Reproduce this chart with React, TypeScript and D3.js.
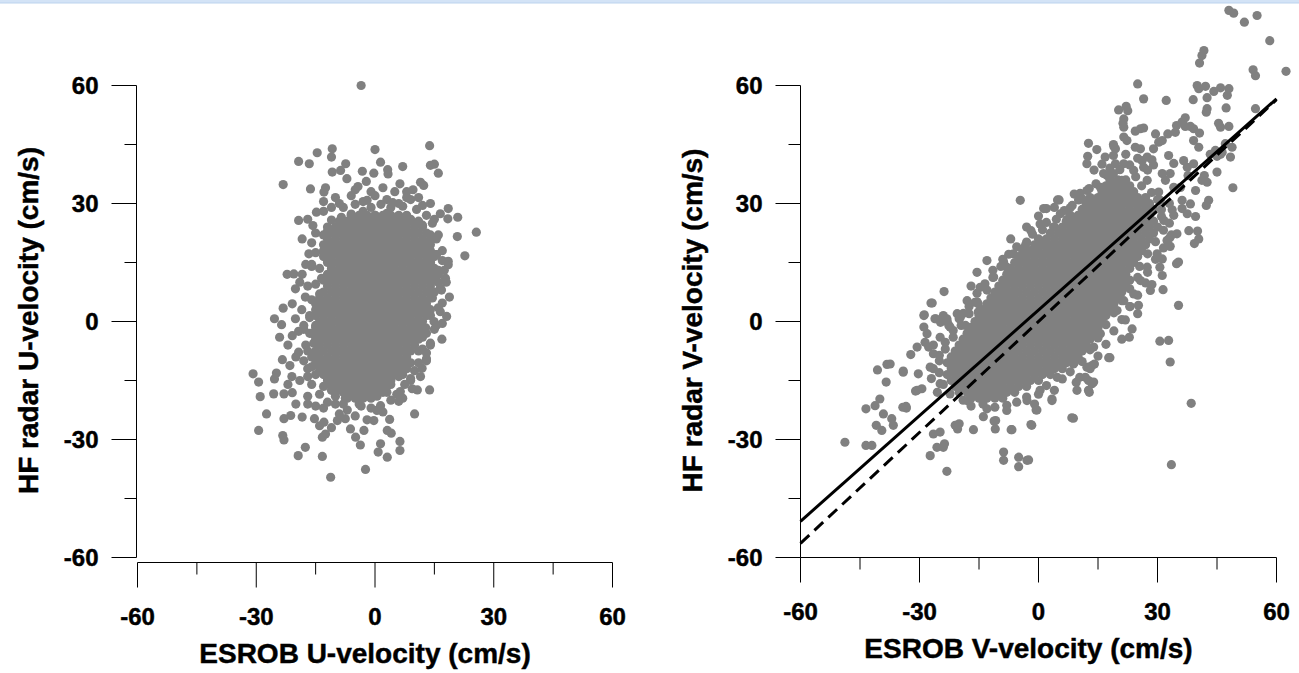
import React from 'react';
import * as d3 from 'd3';

// ---------- axis values ----------
const majorTicks = [-60, -30, 0, 30, 60];
const minorTicks = [-45, -15, 15, 45];
const tickLabels = ['-60', '-30', '0', '30', '60'];

// ---------- U panel (left) ----------
const uOutliers: [number, number][] = [
  [-3.5,60],[13.8,44.7],[0,43.7],[-10.8,43.9],[-11,41.8],[-14.6,42.9],[-19.3,40.7],[-16.6,40.1],[-23.2,34.8],
  [14,39.7],[15,40],[16,37.7],[7,39.4],[1.4,40.5],[3.2,38.6],[3.3,37.5],[-7.4,40.1],[-10.8,38],[-8.7,38.4],
  [-7.1,36.3],[-3.2,38.2],[-0.3,37.7],[-16.3,33.7],[-12.5,34],[-4.3,34.3],[-2.2,35.6],[6.3,35],[9.6,33.5],
  [11.5,35.4],[12.3,34.6],[18.5,28.7],[20.9,26.5],[18.4,26.1],[16.5,27.4],[25.6,22.7],[20.8,21.6],[22.7,16.7],
  [18.5,15.3],[18.5,14.4],[17.8,11],[18.8,6.2],[17,4.7],[18.1,1.3],[14.9,0],[16.9,-4.5],[12.8,-1.6],[11.9,-11.9],
  [13.8,-17.4],[9.4,-17.1],[10.7,-17.4],[6.4,-17.8],[6,-20.3],[10,-23.5],[3.7,-24.9],[4.1,-28.4],[6.3,-30.5],
  [6.3,-32.8],[1.4,-31.1],[3.1,-34.5],[0.8,-33.2],[-2.4,-37.6],[-11.2,-39.6],[-13.3,-34.3],[-19.4,-34.1],
  [-17.6,-32],[-3.7,-31.4],[-23,-30.1],[-23.3,-29],[-29.4,-27.7],[-27.4,-23.5],[-29,-19.1],[-30.8,-13.3],
  [-29.4,-15.4],[-25.6,-18.4],[-23,-18.4],[-20.9,-18.1],[-25.4,-14.6],[-24.9,-13.1],[-23.4,-9.7],[-21.5,-11.2],
  [-19.3,-7.8],[-24.1,-4],[-23.6,-0.8],[-25.4,0.7],[-23.2,3.4],[-20.9,4.5],[-20.1,0.7],[-19.3,-2.5],[-20.9,-3.6],
  [-22.2,12],[-20.5,12.1],[-18.4,12],[-20.1,8.3],[-17.6,6.2],[-16.7,17.2],[-18.4,21],[-19.3,25.7],[-15.7,24.4],
  [-14.8,27.8],[-12.9,32.9],[-23,-24.7],[-21.3,-23.9],[-18.4,-24.3],[-15.3,-24.7],[-12.9,-25.6],[-12.5,-28.6],
  [-13.3,-29.4],[-9.5,-25.2],[-7.5,-24.7],[-6.2,-27.3],[-4.9,-29.4],[-2.8,-27.7],[-0.3,-25.2],[0.5,-22.6],
  [1.4,-21.4],[3.1,-27.7]
];
const uFringe: [number, number][] = [
  [-9,30],[-6,32],[-3,30.5],[0,32],[3,31],[6,30],[9,31],[12,29.5],[-11,29],[-5,33.5],[2,34],[8,33],[4,29],[-1,29],
  [14,30],[-13,30.5],[16,22],[17,18],[17.5,13],[16.8,8],[16.5,2.5],[15,-2],[14,-6],[13,-10],[11.5,-14],[9,-15],
  [16,10],[15.5,17],[14.5,25],[13,-8],[12,-4],[7,-19.5],[4,-20],[2,-23],[-1,-22],[-4,-21],[-7,-22.5],[-10,-21],
  [-13,-22],[-15,-21.5],[-9,-23.5],[-5,-24],[-2,-25],[-11,-27],[-14,-26.5],[-17,-21],[-20,-21],[-17,-19],
  [-17,-14],[-18,-10],[-17.5,-6],[-18,-2],[-16.5,1.5],[-17,9],[-16,14],[-17.5,14.5],[-16,20],[-15,22.5],[-17,26],
  [-19,-15],[-21,-14],[-22,-16],[-20,-9],[-22,-6],[-19,10],[-13,28]
];
const uRing: [number, number][] = [
  [-9,23.5],[-6.5,24.2],[-4,25],[-1,24.8],[2,25.5],[5,24],[7.5,23.2],[10,22.6],[12,24.5],[9,26],[6,26.8],[3,27.5],
  [0,27],[-3,28],[-6,27.3],[-8.5,26.5],[-11,25.8],[-12,23],[14,22],[13,27],[10.5,28.5],[7,29.3],[4.5,30.2],
  [1.5,29.8],[-2,30.8],[-5,29.8],[-8,29],[-10,31.5],[15,26],[11,31.5],[-1,33],[5,33],[8,31.5],
  [14,19.5],[15.5,17],[14,15],[16,13],[14.5,10.5],[16.5,8.5],[14.5,6],[16,3.5],[14,1.5],[15.5,-1],[13,-3],
  [14,-5.5],[12,-7],[13,-9.5],[11,-10.5],[10,-12.5],[8,-12],[6,-14],[9,-14.5],[3.5,-13],[15.5,21],[17,15.5],
  [18,10],[17,-0.5],
  [-11,20],[-13,18],[-12,15.5],[-14,13.5],[-13.5,11],[-15,9.5],[-14,7],[-16,5.5],[-15,3],[-16.5,1],[-15,-1],
  [-16.5,-3],[-15.5,-5.5],[-17,-7.5],[-15,-8],[-14,-10],[-16,-11.5],[-13,-12.5],[-15,-13.5],[-17,-12],[-16,14.5],
  [-15,17.5],[-13,22],[-18,-1],[-18.5,3],
  [-12,-14.5],[-10,-13],[-8,-14],[-6,-12.5],[-4,-13.5],[-2,-12],[0,-13.5],[2,-14.5],[4,-16],[1,-16.5],[-1,-15.5],
  [-3,-16.5],[-5,-15.5],[-7,-17],[-9,-16],[-11,-17.5],[-13,-16.5],[-14,-18.5],[-10,-19],[-7.5,-19.5],[-5,-18.5],
  [-2,-19],[0.5,-19],[3,-18],[5.5,-18.5],[-3.5,-21.5],[-8,-21],[-12,-20.5],[-16,-16],[7.5,-16]
];
const uCoreRows: [number, number[]][] = [
  [27, [-6,-4,-2,0,2,4,6,8]],
  [25.5, [-9,-7,-5,-3,-1,1,3,5,7,9,11]],
  [24, [-12,-10,-8,-6,-4,-2,0,2,4,6,8,10,12]],
  [22.5, [-11,-9,-7,-5,-3,-1,1,3,5,7,9,11,13]],
  [21, [-12,-10,-8,-6,-4,-2,0,2,4,6,8,10,12,14]],
  [19.5, [-13,-11,-9,-7,-5,-3,-1,1,3,5,7,9,11,13]],
  [18, [-12,-10,-8,-6,-4,-2,0,2,4,6,8,10,12,14]],
  [16.5, [-13,-11,-9,-7,-5,-3,-1,1,3,5,7,9,11,13,15]],
  [15, [-12,-10,-8,-6,-4,-2,0,2,4,6,8,10,12,14]],
  [13.5, [-11,-9,-7,-5,-3,-1,1,3,5,7,9,11,13,15]],
  [12, [-12,-10,-8,-6,-4,-2,0,2,4,6,8,10,12,14,16]],
  [10.5, [-13,-11,-9,-7,-5,-3,-1,1,3,5,7,9,11,13,15]],
  [9, [-12,-10,-8,-6,-4,-2,0,2,4,6,8,10,12,14]],
  [7.5, [-13,-11,-9,-7,-5,-3,-1,1,3,5,7,9,11,13,15]],
  [6, [-14,-12,-10,-8,-6,-4,-2,0,2,4,6,8,10,12,14]],
  [4.5, [-15,-13,-11,-9,-7,-5,-3,-1,1,3,5,7,9,11,13]],
  [3, [-14,-12,-10,-8,-6,-4,-2,0,2,4,6,8,10,12,14]],
  [1.5, [-15,-13,-11,-9,-7,-5,-3,-1,1,3,5,7,9,11,13]],
  [0, [-14,-12,-10,-8,-6,-4,-2,0,2,4,6,8,10,12]],
  [-1.5, [-15,-13,-11,-9,-7,-5,-3,-1,1,3,5,7,9,11]],
  [-3, [-16,-14,-12,-10,-8,-6,-4,-2,0,2,4,6,8,10,12]],
  [-4.5, [-15,-13,-11,-9,-7,-5,-3,-1,1,3,5,7,9,11]],
  [-6, [-14,-12,-10,-8,-6,-4,-2,0,2,4,6,8,10]],
  [-7.5, [-15,-13,-11,-9,-7,-5,-3,-1,1,3,5,7,9,11]],
  [-9, [-16,-14,-12,-10,-8,-6,-4,-2,0,2,4,6,8]],
  [-10.5, [-15,-13,-11,-9,-7,-5,-3,-1,1,3,5,7,9]],
  [-12, [-14,-12,-10,-8,-6,-4,-2,0,2,4,6]],
  [-13.5, [-13,-11,-9,-7,-5,-3,-1,1,3,5,7]],
  [-15, [-12,-10,-8,-6,-4,-2,0,2,4]],
  [-16.5, [-11,-9,-7,-5,-3,-1,1,3]],
  [-18, [-10,-8,-6,-4,-2,0,2]],
  [-19.5, [-7,-5,-3,-1]]
];

// ---------- V panel (right) ----------
const vOutliers: [number, number][] = [
  [48,79.1],[49.2,78.4],[55.1,77.8],[51.9,76.1],[58.3,71.4],[41.7,68.9],[41.2,67.6],[40.6,65.7],[54.1,64],[54.7,62.5],
  [62.4,63.6],[25,60.4],[40,60],[42.1,59.8],[40.4,59.2],[44.2,58.5],[45.9,59.4],[48,59.2],[47.6,57.5],[42.5,56.9],
  [39,56.4],[26.5,56.6],[32.2,56.2],[42.5,54.1],[42.3,53.2],[47.3,54.3],[54.7,54.1],[20.2,53.8],[22.1,54.7],[22.5,53.6],
  [21.5,51.5],[21.3,50.4],[21.5,49.4],[37,51.8],[36.2,50.7],[37,49.6],[38.3,49.6],[39.1,49],[40.6,47.9],[45.4,50.4],
  [48,49.6],[45.9,49.4],[34.8,49.8],[34.5,48.1],[24.4,48.4],[25.7,49],[26.5,49.2],[29.5,47.7],[31.2,46],[32.6,47.7],
  [21.5,46.9],[22.3,46],[12.6,45.3],[18.9,45],[19.4,43.9],[14.7,43.7],[24.4,44.3],[25.7,43.9],[29,43.9],[30.3,45.6],
  [39.1,46],[40.4,44.3],[43.3,42.5],[45,42],[45.9,42.5],[12.4,42],[12.2,40.1],[16.8,41.8],[18.9,42.2],[19.4,40.1],
  [32.8,42.2],[34.1,40.2],[36.6,40.9],[37.5,39.2],[45,38],[42.5,35.4],[41.2,35.9],[41.8,37.1],[49,34],[42.9,30.8],
  [42.3,29.5],[39.6,26.7],[37.9,23.1],[40.1,23],[40.4,21],[39.3,19.8],[33.7,28.4],[36.2,28.7],[34.1,27],[33.1,21.3],
  [33.2,19.1],[35.3,15.1],[34.8,14.7],[31.2,15.9],[30.6,13.8],[31.2,11.7],[35.3,4.1],[31.4,8.1],[28.2,7.9],[28.6,9.4],
  [25.2,4.1],[23.1,3.8],[21.9,0.4],[23.6,-1.9],[22.9,-4],[30.6,-5],[32.8,-4.8],[33.2,-10.3],[38.5,-20.8],[33.5,-36.4],
  [17.7,-9.2],[12.2,-11.6],[13.5,-11.2],[10.4,-14.2],[12.6,-15],[13.5,-15.8],[12.6,-17.5],[8.4,-24.5],[3.4,-19.7],
  [-0.6,-22.5],[-1.9,-26.2],[-6.9,-27.5],[-8.8,-33.2],[-8.8,-35.3],[-5,-34.5],[-2.9,-35.3],[-5,-36.9],[-11.2,-25.3],
  [-10.9,-27.3],[-16.4,-27.5],[-23.1,-38.1],[-27.3,-34.1],[-25.6,-32],[-24,-32],[-24.8,-28.1],[-26.5,-28.6],[-21,-26.4],
  [-20.4,-27.3],[-48.8,-30.7],[-43.5,-31.5],[-42,-31.5],[-40.9,-26.4],[-39.5,-27.7],[-43.5,-22.2],[-41.2,-21.4],
  [-40,-19.7],[-39.1,-23.5],[-37,-24.7],[-36.6,-26.4],[-34.2,-21.8],[-33.4,-21.6],[-40.6,-12.3],[-38.2,-10.9],
  [-38.4,-15.4],[-34.1,-12.6],[-32.2,-8.4],[-30.3,-13.3],[-30.6,-6.5],[-30.6,-17.5],[-29.4,-17.1],[-28.8,1.7],
  [-26.1,0.7],[-24,1.5],[-23.1,0.7],[-27.1,4.7],[-23.8,7.6],[-15.5,12.5],[-16,4.9],[-18.9,2.1],[-28.1,-3.1],
  [-28.6,-5.3],[-27.7,-6.5],[-4.6,30.8],[1.3,28.7],[4.8,30.9],[-3.3,19.3],[-1.9,23.1],[0.4,24.8],[-8.8,15.1],
  [-4.2,15.5],[10.5,32.6],[12.2,33.3],[10.1,30.9],[5.5,27.4],[8,28.9],[7.2,25.9],[17.3,37.1],[18.9,37.6],[21,35.9],
  [26.1,40.9],[27.4,41.8],[28.6,41.1],[26.5,39.2],[31.2,37.6],[32,35.9],[30.3,32.9],[47.1,45.2],[48.8,44.3],
  [46.3,43],[48.4,41.8],[-37.4,-10.8],[-34.1,-12.9],[-33.3,-22],[-31,-17.7],[-23.7,-31.1],[-20,-26],[-13.9,-24.2],
  [-10.8,-25.2],[-6.7,-27.5],[-2.5,-35.2],[-0.4,-22.5],[-1.7,-26.4],[8.8,-24.6],[3.4,-20.1],[18,-9.2],[14.1,-10.8],
  [13.9,-15.4],[11.8,-14.2],[12.8,-18],[9.7,-17.5],[-26.8,4.7],[-28.9,1.5],[-25.9,0.7],[-28.9,-1.4],[-24.7,-0.2],
  [-22.6,-1],[-20.5,2],[-15.2,4.5],[-15.2,2.4],[-18.4,-1],[5.2,30.9],[2,28.7],[37.7,37.1],[39.1,40.1],[36.2,30.8],
  [37.5,27.4],[35.8,34.1],[44.6,43.5],[34.1,34.1],[33.2,37.6],[39.6,33.3],[38.3,29.9],[34.9,22.3]
];
const vFringe: [number, number][] = [
  [19.8,2.8],[15.6,-3.1],[13.9,-6.5],[8.8,-10.8],[4.7,-14.2],[0.4,-17.5],[-2.9,-20.1],[-8,-22.6],[-13,-22.2],
  [-18,-20.1],[-22.3,-18.4],[-24.8,-15.8],[-27.3,-11.6],[-26.5,-8.2],[-24.8,-4],[-22.3,-1.4],[-19.7,1.1],[-18,5.3],
  [-14.7,8.7],[-11.3,11.3],[-8,13.8],[-6.3,17.2],[0.4,20.6],[3.8,24],[8.8,26.5],[13.9,30.8],[15.6,34.1],[16.4,37.6],
  [21.5,40.1],[24,38.4],[27.4,35.9],[30.7,30.8],[31.6,25.7],[32.4,20.6],[29.9,17.2],[27.4,13.8],[25.7,10.4],[24,7],
  [21.5,5.3]
];
const vRing: [number, number][] = [
  [14.5,35],[12.8,33.8],[11,31.2],[9,32.4],[8.5,29.5],[6.5,28.2],[4,29],[4.5,26],[2,25.2],[0,26.8],[1,23.3],
  [-1.5,22.2],[-3,24],[-3,20.2],[-5.5,19],[-7,21],[-7.5,17.1],[-9,15.8],[-9.5,14],[-11.5,13],[-13,15.5],
  [-11.5,11.2],[-13.5,9.6],[-13,8],[-15.5,7.2],[-17,9],[-15.5,5],[-17.5,3.8],[-17.5,2],[-20,0.7],[-19.5,-1],
  [-21.5,-2.3],[-23,0],[-21.5,-4],[-23.5,-5.3],[-23.5,-7],[-25,-8.6],[-26.5,-6],[-25,-10],[-26.5,-12],[-25,-13],
  [-27,-14.5],[-24,-16],[-25.5,-18],
  [24.5,36.8],[26,34.5],[28.5,32.8],[30,31],[31,28.5],[33,30],[31,26.7],[33,25],[31.5,23.2],[33.5,22],[29.5,20.3],
  [31.5,18.7],[27.5,17.2],[29.5,15.8],[25.5,14],[27.5,12.5],[25,11.2],[27,9.8],[23,8.3],[25,6.7],[21,5.3],[23,3.8],
  [25,2],[19,2.2],[21,0.5],[17,-0.8],[19,-2.4],[21,-4.5],[15,-4.2],[17,-5.8],[13,-7.2],[15,-8.8],[11,-10.2],
  [13,-12],[8,-12.8],[6,-14.6],[9.5,-15.5],[2,-16.3],[4,-17.5],[0,-18.5],[-3,-19.2],[-5.5,-20.5],[-1,-21],
  [-8,-21.3],[-11,-21.8],[-14,-21],[-17,-21.5],[-19,-20],
  [18,39],[20.5,38.6],[23,39.8],[22,42.5],[25,41.5],[19,44.5],[16,40],[27.5,38.5],[29,39.8],[14,38.5]
];
const vCoreRows: [number, number[]][] = [
  [36, [18,20,22]],
  [34.5, [17,19,21,23]],
  [33, [16,18,20,22,24]],
  [31.5, [13,15,17,19,21,23,25,27]],
  [30, [12,14,16,18,20,22,24,26,28]],
  [28.5, [11,13,15,17,19,21,23,25,27,29]],
  [27, [8,10,12,14,16,18,20,22,24,26,28]],
  [25.5, [7,9,11,13,15,17,19,21,23,25,27,29]],
  [24, [4,6,8,10,12,14,16,18,20,22,24,26,28,30]],
  [22.5, [3,5,7,9,11,13,15,17,19,21,23,25,27,29]],
  [21, [0,2,4,6,8,10,12,14,16,18,20,22,24,26,28]],
  [19.5, [-1,1,3,5,7,9,11,13,15,17,19,21,23,25,27]],
  [18, [-4,-2,0,2,4,6,8,10,12,14,16,18,20,22,24,26]],
  [16.5, [-5,-3,-1,1,3,5,7,9,11,13,15,17,19,21,23,25]],
  [15, [-6,-4,-2,0,2,4,6,8,10,12,14,16,18,20,22,24]],
  [13.5, [-7,-5,-3,-1,1,3,5,7,9,11,13,15,17,19,21,23]],
  [12, [-8,-6,-4,-2,0,2,4,6,8,10,12,14,16,18,20,22]],
  [10.5, [-9,-7,-5,-3,-1,1,3,5,7,9,11,13,15,17,19,21,23]],
  [9, [-10,-8,-6,-4,-2,0,2,4,6,8,10,12,14,16,18,20,22]],
  [7.5, [-11,-9,-7,-5,-3,-1,1,3,5,7,9,11,13,15,17,19,21]],
  [6, [-12,-10,-8,-6,-4,-2,0,2,4,6,8,10,12,14,16,18,20]],
  [4.5, [-13,-11,-9,-7,-5,-3,-1,1,3,5,7,9,11,13,15,17,19]],
  [3, [-14,-12,-10,-8,-6,-4,-2,0,2,4,6,8,10,12,14,16,18]],
  [1.5, [-15,-13,-11,-9,-7,-5,-3,-1,1,3,5,7,9,11,13,15,17]],
  [0, [-16,-14,-12,-10,-8,-6,-4,-2,0,2,4,6,8,10,12,14,16]],
  [-1.5, [-17,-15,-13,-11,-9,-7,-5,-3,-1,1,3,5,7,9,11,13,15]],
  [-3, [-18,-16,-14,-12,-10,-8,-6,-4,-2,0,2,4,6,8,10,12,14]],
  [-4.5, [-19,-17,-15,-13,-11,-9,-7,-5,-3,-1,1,3,5,7,9,11,13]],
  [-6, [-20,-18,-16,-14,-12,-10,-8,-6,-4,-2,0,2,4,6,8,10,12]],
  [-7.5, [-21,-19,-17,-15,-13,-11,-9,-7,-5,-3,-1,1,3,5,7,9,11]],
  [-9, [-22,-20,-18,-16,-14,-12,-10,-8,-6,-4,-2,0,2,4,6,8,10]],
  [-10.5, [-23,-21,-19,-17,-15,-13,-11,-9,-7,-5,-3,-1,1,3,5,7,9]],
  [-12, [-22,-20,-18,-16,-14,-12,-10,-8,-6,-4,-2,0,2,4,6]],
  [-13.5, [-23,-21,-19,-17,-15,-13,-11,-9,-7,-5,-3,-1,1,3]],
  [-15, [-22,-20,-18,-16,-14,-12,-10,-8,-6,-4,-2,0]],
  [-16.5, [-21,-19,-17,-15,-13,-11,-9,-7,-5,-3]],
  [-18, [-20,-18,-16,-14,-12,-10,-8,-6]],
  [-19.5, [-17,-15,-13,-11,-9]]
];

// regression (solid) and reference (dashed) lines for V panel
const fitSolid = { slope: 0.895, intercept: 2.9 };
const fitDashed = { slope: 0.94, intercept: 0 };
const fitXs = [-60, 60];

const FONT = '"Liberation Sans", Arial, Helvetica, sans-serif';
const DOT = '#808080';

function expand(rows: [number, number[]][]): [number, number][] {
  const out: [number, number][] = [];
  rows.forEach(([y, xs]) => xs.forEach((x) => out.push([x, y])));
  return out;
}

type PanelProps = {
  xRange: [number, number];
  yAxisX: number;
  xAxisY: number;
  xLineStart: number;
  points: [number, number][];
  xTitle: string;
  yTitle: string;
  lines?: { slope: number; intercept: number; dash?: string }[];
};

const textStyle = {
  fontFamily: FONT,
  fontWeight: 'bold' as const,
  fill: '#000',
  stroke: '#000',
  strokeWidth: 0.45
};

function Panel({ xRange, yAxisX, xAxisY, xLineStart, points, xTitle, yTitle, lines = [] }: PanelProps) {
  const x = d3.scaleLinear().domain([-60, 60]).range(xRange);
  const y = d3.scaleLinear().domain([-60, 60]).range([557.5, 85.5]);
  const xMid = (xRange[0] + xRange[1]) / 2;
  return (
    <g>
      {points.map((p, i) => (
        <circle key={i} cx={x(p[0])} cy={y(p[1])} r={4.6} fill={DOT} />
      ))}
      {lines.map((l, i) => {
        const path = d3
          .line<number>()
          .x((d) => x(d))
          .y((d) => y(l.slope * d + l.intercept))(fitXs);
        return (
          <path
            key={i}
            d={path || ''}
            fill="none"
            stroke="#000"
            strokeWidth={3}
            strokeDasharray={l.dash}
          />
        );
      })}
      {/* y axis */}
      <line x1={yAxisX} x2={yAxisX} y1={y(60)} y2={y(-60)} stroke="#000" strokeWidth={1} />
      {majorTicks.map((t, i) => (
        <g key={'ym' + t}>
          <line x1={yAxisX - 25} x2={yAxisX} y1={y(t)} y2={y(t)} stroke="#000" strokeWidth={1} />
          <text x={yAxisX - 38} y={y(t)} dy="0.36em" textAnchor="end" fontSize={24} style={textStyle}>
            {tickLabels[i]}
          </text>
        </g>
      ))}
      {minorTicks.map((t) => (
        <line key={'yn' + t} x1={yAxisX - 12} x2={yAxisX} y1={y(t)} y2={y(t)} stroke="#000" strokeWidth={1} />
      ))}
      {/* x axis */}
      <line x1={xLineStart} x2={x(60)} y1={xAxisY} y2={xAxisY} stroke="#000" strokeWidth={1} />
      {majorTicks.map((t, i) => (
        <g key={'xm' + t}>
          <line x1={x(t)} x2={x(t)} y1={xAxisY} y2={xAxisY + 25} stroke="#000" strokeWidth={1} />
          <text x={x(t)} y={xAxisY + 62} textAnchor="middle" fontSize={24} style={textStyle}>
            {tickLabels[i]}
          </text>
        </g>
      ))}
      {minorTicks.map((t) => (
        <line key={'xn' + t} x1={x(t)} x2={x(t)} y1={xAxisY} y2={xAxisY + 12} stroke="#000" strokeWidth={1} />
      ))}
      <text x={xMid - 10} y={xAxisY + 100} textAnchor="middle" fontSize={28} style={textStyle}>
        {xTitle}
      </text>
      <text
        transform={`translate(${yAxisX - 99},${y(0) - 1}) rotate(-90)`}
        textAnchor="middle"
        fontSize={28}
        style={textStyle}
      >
        {yTitle}
      </text>
    </g>
  );
}

export default function App() {
  const uPoints = [...expand(uCoreRows), ...uRing, ...uFringe, ...uOutliers];
  const vPoints = [...expand(vCoreRows), ...vRing, ...vFringe, ...vOutliers];
  return (
    <svg
      width={1299}
      height={673}
      style={{ position: 'absolute', left: 0, top: 0, background: '#fff' }}
    >
      <rect x={0} y={0} width={1299} height={673} fill="#fff" />
      <rect x={0} y={0} width={1299} height={3} fill="#d3e3f6" />
      <line x1={0} x2={1299} y1={3} y2={3} stroke="#bcd3ee" strokeWidth={1} />
      <Panel
        xRange={[137.5, 612.5]}
        yAxisX={136.5}
        xAxisY={562.5}
        xLineStart={137.5}
        points={uPoints}
        xTitle="ESROB U-velocity (cm/s)"
        yTitle="HF radar U-velocity (cm/s)"
      />
      <Panel
        xRange={[800.5, 1276.5]}
        yAxisX={800.5}
        xAxisY={557.5}
        xLineStart={800.5}
        points={vPoints}
        xTitle="ESROB V-velocity (cm/s)"
        yTitle="HF radar V-velocity (cm/s)"
        lines={[
          { ...fitDashed, dash: '12 7' },
          { ...fitSolid }
        ]}
      />
    </svg>
  );
}
